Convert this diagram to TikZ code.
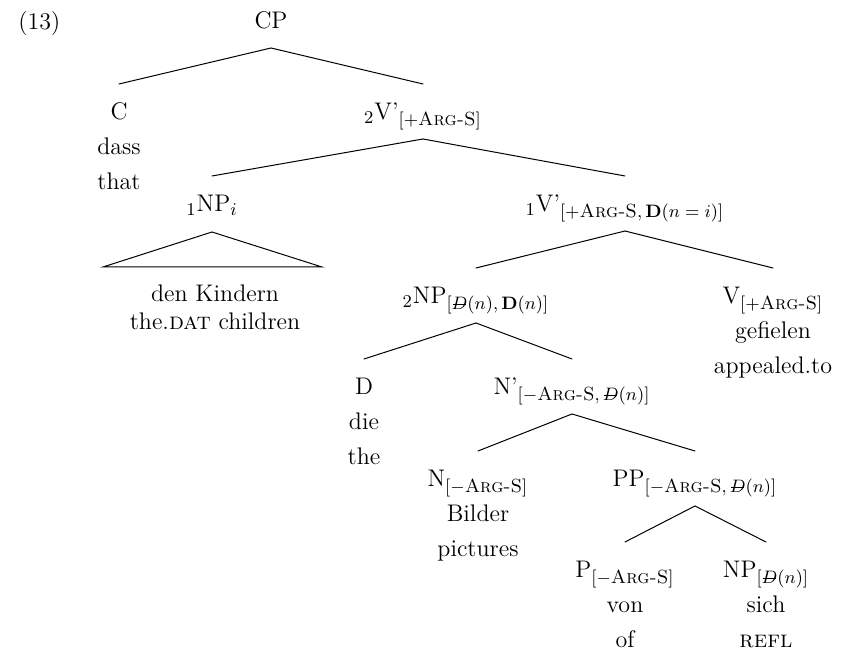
\documentclass[tikz,border=0pt]{standalone}
\usepackage{amsmath}
\DeclareMathSizes{12}{12}{9.5}{7}
\newcommand{\sD}{\text{\ooalign{$D$\cr\hidewidth\rule[0.6ex]{0.7em}{0.35pt}\hidewidth\cr}}}
\newcommand{\ARG}{\textsc{Arg-S}}
\tikzset{
  lab/.style={anchor=base, inner sep=0pt, font=\fontsize{12}{14}\selectfont},
  word/.style={anchor=base, inner sep=0pt, font=\fontsize{12}{14}\selectfont},
  edge/.style={line width=0.5pt, line cap=round},
}
\begin{document}
\begin{tikzpicture}[x=0.5pt, y=-0.5pt]
\useasboundingbox (0,0) rectangle (853,656);
% example number
\node[word, anchor=base west] (ex) at (18,30) {(13)};
% nodes
\node[lab] (cp) at (271,29) {CP};
\node[lab] (c) at (119,120) {C};
\node[word] (cdass) at (119,155) {dass};
\node[word] (cthat) at (119,190) {that};
\node[lab] (vtwo) at (423,120) {$_2$V'$_{[+\ARG]}$};
\node[lab] (npone) at (212,212) {$_1$NP$_i$};
\node[lab] (vone) at (625,212) {$_1$V'$_{[+\ARG,\,\mathbf{D}(n\;{=}\;i)]}$};
\coordinate (roofL) at (103,267);
\coordinate (roofR) at (322,267);
\node[word] (kind1) at (215,302) {den Kindern};
\node[word] (kind2) at (215,330) {the.\textsc{dat} children};
\node[lab] (nptwo) at (476,304) {$_2$NP$_{[\sD(n),\,\mathbf{D}(n)]}$};
\node[lab] (v) at (773,304) {V$_{[+\ARG]}$};
\node[word] (vgef) at (773,339) {gefielen};
\node[word] (vapp) at (773,374) {appealed.to};
\node[lab] (d) at (364,395) {D};
\node[word] (die) at (364,430) {die};
\node[word] (the) at (364,465) {the};
\node[lab] (nbar) at (572,395) {N'$_{[-\ARG,\,\sD(n)]}$};
\node[lab] (n) at (478,487) {N$_{[-\ARG]}$};
\node[word] (bild) at (478,522) {Bilder};
\node[word] (pict) at (478,557) {pictures};
\node[lab] (pp) at (695,487) {PP$_{[-\ARG,\,\sD(n)]}$};
\node[lab] (p) at (625,578) {P$_{[-\ARG]}$};
\node[word] (von) at (625,613) {von};
\node[word] (of) at (625,648) {of};
\node[lab] (np) at (766,578) {NP$_{[\sD(n)]}$};
\node[word] (sich) at (766,613) {sich};
\node[word] (refl) at (766,648) {\textsc{refl}};
% edges
\foreach \pa/\ch in {cp/c, cp/vtwo, vtwo/npone, vtwo/vone, vone/nptwo, vone/v,
                     nptwo/d, nptwo/nbar, nbar/n, nbar/pp, pp/p, pp/np}
  \draw[edge] ([yshift=-9.5pt]\pa.base) -- ([yshift=18pt]\ch.base);
% roof
\draw[edge, line join=miter] ([yshift=-10pt]npone.base) -- (roofL) -- (roofR) -- cycle;
\end{tikzpicture}
\end{document}
